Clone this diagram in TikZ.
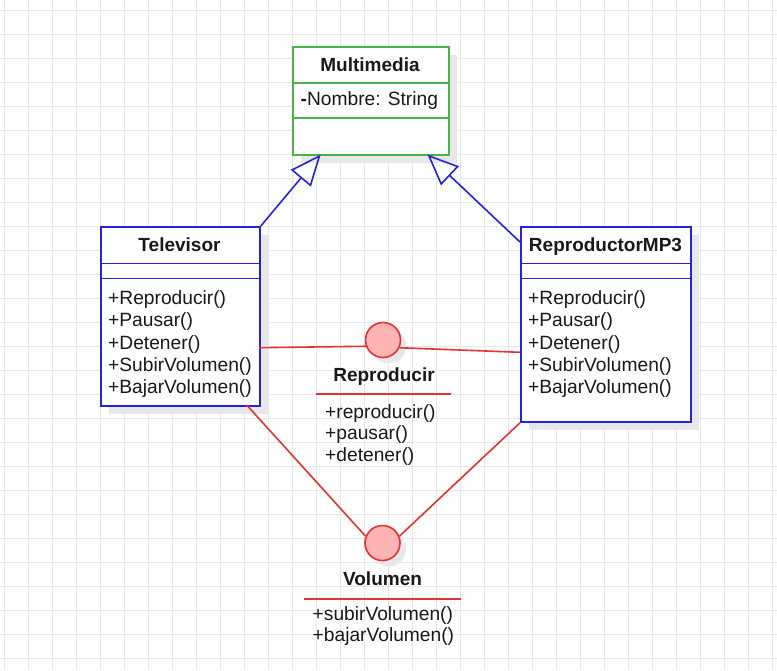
\documentclass[tikz,border=0pt]{standalone}
\usepackage{fontspec}
\setmainfont{Liberation Sans}
\usetikzlibrary{arrows.meta,shadows}
\definecolor{umlblue}{RGB}{35,35,225}
\definecolor{umlgreen}{RGB}{70,180,70}
\definecolor{umlred}{RGB}{230,50,50}
\definecolor{ifill}{RGB}{255,180,180}
\definecolor{gridc}{RGB}{232,232,232}
\definecolor{shadowc}{RGB}{232,232,232}
\definecolor{txt}{RGB}{25,25,25}
\begin{document}
\begin{tikzpicture}[x=1pt,y=-1pt,
  gridline/.style={draw=gridc, line width=0.9pt},
  box/.style={draw=#1, line width=1.8pt, fill=white, inner sep=0pt, anchor=north west,
    drop shadow={shadow xshift=8pt, shadow yshift=-8pt, fill=shadowc, opacity=1}},
  sep/.style={draw=#1, line width=1.8pt},
  ttl/.style={font=\bfseries\fontsize{19}{22.5}\selectfont, text=txt, inner sep=0pt, anchor=base},
  mem/.style={font=\fontsize{19.2}{22.5}\selectfont, text=txt, inner sep=0pt, anchor=base west},
  iface/.style={circle, draw=umlred, line width=1.6pt, fill=ifill, minimum size=35pt, inner sep=0pt,
    drop shadow={shadow xshift=6pt, shadow yshift=-6pt, fill=shadowc, opacity=1}},
  inherit/.style={draw=umlblue, line width=1.6pt, -{Triangle[open, length=31pt, width=26pt, line width=1.6pt]}},
  realize/.style={draw=umlred, line width=1.6pt},
  uline/.style={draw=umlred, line width=1.8pt}]
\useasboundingbox (0,0) rectangle (777,670);
\fill[white] (0,0) rectangle (777,670);
\foreach \x in {4,28,...,772} \draw[gridline] (\x,0) -- (\x,670);
\foreach \y in {10,34,...,670} \draw[gridline] (0,\y) -- (777,\y);

% Multimedia
\node[box=umlgreen, minimum width=156pt, minimum height=108pt] (mm) at (292,46) {};
\draw[sep=umlgreen] (292,83) -- (448,83);
\draw[sep=umlgreen] (292,118) -- (448,118);
\node[ttl] (mmt) at (370,71) {Multimedia};
\node[mem] (mma) at (300.5,105.7) {\textbf{-}Nombre: String};

% Televisor
\node[box=umlblue, minimum width=159pt, minimum height=179pt] (tv) at (100,226) {};
\draw[sep=umlblue] (100,263.5) -- (259,263.5);
\draw[sep=umlblue] (100,278.5) -- (259,278.5);
\node[ttl] (tvt) at (179.5,251) {Televisor};
\node[mem] (tv1) at (108,304.3) {+Reproducir()};
\node[mem] (tv2) at (108,326.7) {+Pausar()};
\node[mem] (tv3) at (108,349.1) {+Detener()};
\node[mem] (tv4) at (108,371.5) {+SubirVolumen()};
\node[mem] (tv5) at (108,393.9) {+BajarVolumen()};

% ReproductorMP3
\node[box=umlblue, minimum width=170pt, minimum height=195pt] (mp) at (520,226) {};
\draw[sep=umlblue] (520,263.5) -- (690,263.5);
\draw[sep=umlblue] (520,278.5) -- (690,278.5);
\node[ttl] (mpt) at (605.5,251) {ReproductorMP3};
\node[mem] (mp1) at (528,304.3) {+Reproducir()};
\node[mem] (mp2) at (528,326.7) {+Pausar()};
\node[mem] (mp3) at (528,349.1) {+Detener()};
\node[mem] (mp4) at (528,371.5) {+SubirVolumen()};
\node[mem] (mp5) at (528,393.9) {+BajarVolumen()};

% Interface Reproducir
\node[iface] (rep) at (383,340) {};
\node[ttl] (rept) at (384,381.7) {Reproducir};
\draw[uline] (316,394.3) -- (451,394.3);
\node[mem] (rep1) at (325,418.3) {+reproducir()};
\node[mem] (rep2) at (325,439.8) {+pausar()};
\node[mem] (rep3) at (325,461.3) {+detener()};

% Interface Volumen
\node[iface] (vol) at (382.5,543) {};
\node[ttl] (volt) at (382.5,585.3) {Volumen};
\draw[uline] (304,598.7) -- (461,598.7);
\node[mem] (vol1) at (312.5,620.5) {+subirVolumen()};
\node[mem] (vol2) at (312.5,641) {+bajarVolumen()};

% connector anchor points
\coordinate (mmL) at (320.7,154.5);
\coordinate (mmR) at (427.5,154.5);
\coordinate (mpL) at (520,242);
\coordinate (tvR) at (259,347.7);
\coordinate (mpR) at (520,352.3);
\coordinate (tvB) at (246.7,405);

% inheritance
\draw[inherit] (tv.north east) -- (mmL);
\draw[inherit] (mpL) -- (mmR);

% realization
\draw[realize] (tvR) -- (rep.200);
\draw[realize] (rep.335) -- (mpR);
\draw[realize] (tvB) -- (vol.158);
\draw[realize] (mp.south west) -- (vol.22);
\end{tikzpicture}
\end{document}
